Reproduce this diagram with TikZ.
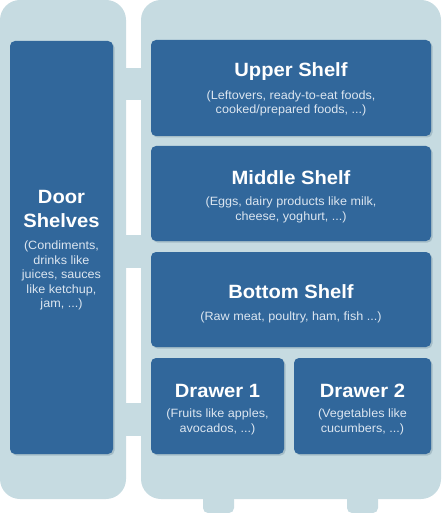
\documentclass[tikz,border=0pt]{standalone}
\usepackage{fontspec}
\setmainfont{Liberation Sans}[FakeStretch=1.05]
\definecolor{panel}{HTML}{C6DBE1}
\definecolor{boxblue}{HTML}{31679B}
\definecolor{subtxt}{HTML}{DCE6F0}
\definecolor{shade}{HTML}{8FA9B6}
\tikzset{
  panelshape/.style={fill=panel, draw=none, rounded corners=20pt},
  hinge/.style={fill=panel, draw=none},
  compartment/.style={fill=boxblue, draw=none, rounded corners=5pt},
  compshadow/.style={fill=shade, draw=none, rounded corners=5pt, opacity=0.6},
  titletext/.style={anchor=base, text=white, inner sep=0pt, font=\fontsize{19.2}{24}\selectfont\bfseries, align=center},
  subtext/.style={anchor=base, text=subtxt, inner sep=0pt, font=\fontsize{12}{14.5}\selectfont, align=center},
}
\begin{document}
\begin{tikzpicture}[x=1pt, y=-1pt]
\useasboundingbox (0,0) rectangle (441,513);
% feet
\fill[panel, rounded corners=5pt] (203,490) rectangle (234,513);
\fill[panel, rounded corners=5pt] (347,490) rectangle (378,513);
% hinges
\fill[hinge] (120,68) rectangle (147,100);
\fill[hinge] (120,235) rectangle (147,268);
\fill[hinge] (120,403) rectangle (147,436);
% panels
\fill[panelshape] (0,0) rectangle (126,499);
\fill[panelshape] (141,0) rectangle (441,499);
% shadows
\foreach \a/\b/\c/\d in {10/41/113/454, 151/40/431/136, 151/146/431/241, 151/252/431/347, 151/358/284/454, 294/358/431/454}
  \fill[compshadow] (\a+1.5,\b+1.5) rectangle (\c+1.5,\d+1.5);
% compartments
\path[compartment] (10,41) rectangle (113,454) node[pos=.5] (door) {};
\path[compartment] (151,40) rectangle (431,136) node[pos=.5] (upper) {};
\path[compartment] (151,146) rectangle (431,241) node[pos=.5] (middle) {};
\path[compartment] (151,252) rectangle (431,347) node[pos=.5] (bottom) {};
\path[compartment] (151,358) rectangle (284,454) node[pos=.5] (drawer1) {};
\path[compartment] (294,358) rectangle (431,454) node[pos=.5] (drawer2) {};
% texts (base anchor = baseline of the last line)
\node[titletext] (doorT) at (61.5,227) {Door\\Shelves};
\node[subtext] (doorS) at (61.5,307.5) {(Condiments,\\drinks like\\juices, sauces\\like ketchup,\\jam, ...)};
\node[titletext] (upperT) at (291,77) {Upper Shelf};
\node[subtext] (upperS) at (291,114) {(Leftovers, ready-to-eat foods,\\cooked/prepared foods, ...)};
\node[titletext] (middleT) at (291,184) {Middle Shelf};
\node[subtext] (middleS) at (291,220) {(Eggs, dairy products like milk,\\cheese, yoghurt, ...)};
\node[titletext] (bottomT) at (291,298) {Bottom Shelf};
\node[subtext] (bottomS) at (291,320) {(Raw meat, poultry, ham, fish ...)};
\node[titletext] (drawer1T) at (217.5,397) {Drawer 1};
\node[subtext] (drawer1S) at (217.5,432) {(Fruits like apples,\\avocados, ...)};
\node[titletext] (drawer2T) at (362.5,397) {Drawer 2};
\node[subtext] (drawer2S) at (362.5,432) {(Vegetables like\\cucumbers, ...)};
\end{tikzpicture}
\end{document}
